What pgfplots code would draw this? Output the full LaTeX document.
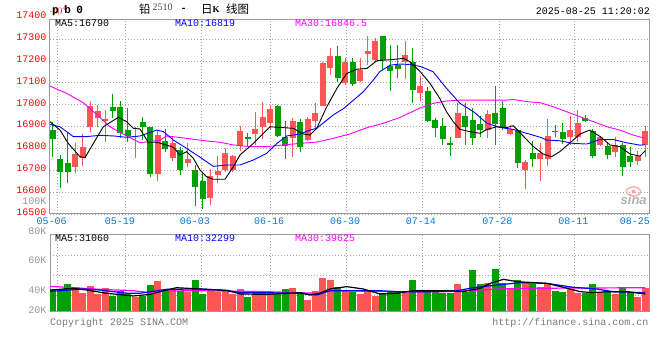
\documentclass[border=0pt]{standalone}
\usepackage{fontspec}
\setmainfont{Liberation Mono}
\newfontfamily\cjk{Noto Sans CJK SC}
\newfontfamily\serif{Liberation Serif}
\newfontfamily\sans{Liberation Sans}
\newfontfamily\widemono[LetterSpace=50]{Liberation Mono}
\usepackage{pgfplots}
\usepackage{pgfplotstable}
\pgfplotsset{compat=1.18}

\definecolor{cred}{RGB}{255,85,85}
\definecolor{cgreen}{RGB}{0,160,0}
\definecolor{cblue}{RGB}{0,0,255}
\definecolor{cmag}{RGB}{255,0,255}
\definecolor{datecol}{RGB}{0,120,220}
\definecolor{bordergray}{RGB}{153,153,153}
\definecolor{gridgray}{RGB}{165,165,165}
\definecolor{labgray}{RGB}{150,150,150}
\definecolor{pricered}{RGB}{255,0,0}

% i open close high low volume(K)
\pgfplotstableread{
i o c h l v
3 16716 16774 16825 16689 44.9
4 16758 16806 16864 16720 38.7
5 16899 16994 17018 16875 46.0
6 16937 16970 16998 16899 37.7
7 16927 16934 16976 16831 43.6
11 16851 16857 16899 16758 34.5
14 16683 16861 16884 16652 51.2
16 16758 16823 16851 16744 41.8
18 16732 16752 16823 16713 40.1
21 16575 16674 16704 16541 41.1
22 16678 16697 16765 16640 40.1
23 16701 16777 16800 16692 41.1
24 16701 16765 16770 16692 37.7
25 16811 16880 16904 16790 42.9
27 16866 16889 16968 16816 40.8
28 16899 16942 17014 16843 40.1
29 16915 16980 16998 16884 39.0
32 16846 16927 16938 16759 43.9
34 16838 16933 16942 16835 31.4
35 16925 16960 17006 16884 40.8
36 16994 17189 17197 16994 54.6
37 17166 17223 17258 17136 52.2
39 17098 17197 17212 17090 41.1
41 17108 17158 17212 17105 37.7
42 17232 17245 17314 17183 41.8
43 17206 17290 17303 17197 35.9
47 17197 17227 17293 17117 39.0
49 17052 17086 17131 17018 40.1
54 16849 16963 17009 16849 48.1
58 16884 16957 16976 16846 49.4
61 16866 16887 16905 16860 42.5
63 16701 16736 16747 16614 49.4
65 16750 16777 16823 16649 44.9
66 16750 16857 16933 16720 49.4
69 16851 16884 16948 16816 42.9
70 16854 16915 16976 16831 38.7
73 16816 16851 16857 16813 40.1
75 16784 16817 16851 16759 37.7
78 16742 16765 16790 16723 34.9
79 16817 16878 16904 16762 43.6
}\redtab

\pgfplotstableread{
i o c h l v
0 16884 16841 16919 16762 41.8
1 16750 16692 16771 16619 42.9
2 16735 16692 16870 16642 48.1
8 16988 16973 17049 16937 35.6
9 16988 16869 17018 16846 40.8
10 16884 16857 16986 16831 37.7
12 16921 16899 16942 16838 35.3
13 16896 16683 16899 16671 47.0
15 16834 16796 16887 16785 42.9
17 16793 16701 16808 16678 40.8
19 16701 16622 16724 16537 52.2
20 16651 16569 16694 16523 37.7
26 16851 16845 16872 16811 34.5
30 16994 16857 16998 16851 37.4
31 16851 16811 16927 16750 42.9
33 16922 16808 16933 16785 39.0
38 17223 17123 17268 17105 44.9
40 17197 17095 17212 17085 40.1
44 17314 17204 17314 17158 39.0
45 17178 17155 17273 17064 41.1
46 17180 17163 17273 17120 40.1
48 17197 17068 17258 17010 52.2
50 17061 16927 17080 16922 41.8
51 16930 16895 16938 16851 40.8
52 16902 16843 16938 16816 39.0
53 16823 16817 16851 16765 39.0
55 16948 16899 17009 16816 40.1
56 16930 16849 16983 16816 62.6
57 16911 16884 16948 16854 48.1
59 16960 16911 17084 16816 63.6
60 16983 16895 17018 16884 49.1
62 16884 16735 16890 16709 52.2
64 16780 16750 16832 16713 48.1
67 16881 16873 16907 16851 40.8
68 16875 16843 16915 16819 39.7
71 16941 16927 16953 16922 39.0
72 16881 16765 16887 16755 48.1
74 16811 16770 16831 16750 40.8
76 16817 16715 16826 16672 43.6
77 16765 16738 16806 16716 39.0
}\greentab

\pgfplotsset{
  panel/.style={
    scale only axis, width=599bp,
    xmin=-0.36, xmax=79.5,
    axis line style={draw=bordergray, line width=1bp},
    xtick={0.61,9.73,19.77,29.07,39.1,49.33,59.5,69.55},
    xticklabels={},
    xmajorgrids, ymajorgrids,
    major grid style={draw=gridgray, line width=0.8bp, dash pattern=on 1bp off 2bp},
    major tick length=0pt, tick style={draw=none},
    tick label style={font=\fontsize{10bp}{12bp}\selectfont},
  },
  candle/.style n args={2}{draw=none, mark=none, error bars/.cd, y dir=plus, y explicit,
    error mark=none, error bar style={draw=#1, line width=#2, solid, line cap=butt}},
}

\begin{document}
\begin{tikzpicture}[font=\fontsize{10bp}{12bp}\selectfont]
\path[use as bounding box] (0bp,0bp) rectangle (660bp,360bp);

% ---------- price panel ----------
\begin{axis}[panel, at={(50bp,146bp)}, anchor=south west, height=195bp,
  ymin=16500, ymax=17392,
  ytick={16500,16600,16700,16800,16900,17000,17100,17200,17300},
  yticklabels={16500,16600,16700,16800,16900,17000,17100,17200,17300},
  yticklabel style={text=pricered, anchor=base east, inner sep=0pt, xshift=-3.5bp, yshift=-1.4bp},
  extra x ticks={-0.13,8.97,18.97,28.85,38.97,49.1,59.3,69.4,77.6},
  extra x tick labels={05-06,05-19,06-03,06-16,06-30,07-14,07-28,08-11,08-25},
  extra x tick style={grid=none, xticklabel style={text=datecol, anchor=base, inner sep=0pt, yshift=-11bp}},
]
% wicks
\addplot[candle={cred}{1bp}]
  table[x=i, y=l, y error plus expr=\thisrow{h}-\thisrow{l}] {\redtab};
\addplot[candle={cgreen}{1bp}]
  table[x=i, y=l, y error plus expr=\thisrow{h}-\thisrow{l}] {\greentab};
% bodies
\addplot[candle={cred}{5.8bp}]
  table[x=i, y=o, y error plus expr=\thisrow{c}-\thisrow{o}] {\redtab};
\addplot[candle={cgreen}{5.8bp}]
  table[x=i, y=c, y error plus expr=\thisrow{o}-\thisrow{c}] {\greentab};
% MA30
\addplot[cmag, line width=0.9bp, mark=none] coordinates {
(-0.36,17085) (1.87,17052) (4.08,17009) (6.3,16942) (7.64,16899) (9.86,16857) (11.64,16826)
(14.31,16838) (15.2,16857) (17.86,16846) (20.5,16834) (22.3,16828) (24.08,16816) (26.3,16808)
(28.5,16808) (30.75,16816) (32.97,16823) (35.2,16829) (37.4,16846) (39.6,16866) (41.9,16895)
(44.1,16915) (46.3,16942) (49.0,16985) (50.7,17006) (52.5,17017) (54.3,17021) (57.9,17021)
(60.5,17021) (61.4,17024) (63.2,17014) (65.0,17009) (66.7,16991) (68.5,16968) (70.3,16945)
(72.1,16922) (73.9,16899) (75.6,16884) (77.4,16861) (79,16846)};
% MA10
\addplot[cblue, line width=0.9bp, mark=none] coordinates {
(-0.36,16910) (0.97,16899) (2.75,16854) (4.5,16854) (6.3,16860) (8.1,16857) (9.86,16851)
(11.64,16857) (13.86,16884) (14.75,16877) (16.1,16838) (17.86,16800) (19.64,16760) (21.4,16718)
(23.2,16724) (24.97,16724) (26.75,16747) (28.5,16777) (29.9,16823) (31.2,16857) (33.0,16866)
(34.3,16884) (35.2,16892) (37.4,16953) (38.8,16983) (40.1,17021) (41.4,17059) (42.75,17113)
(43.6,17151) (45.0,17181) (46.3,17186) (47.6,17184) (49.0,17175) (50.7,17151) (52.5,17075)
(54.3,17006) (56.1,16968) (57.9,16915) (59.6,16896) (61.4,16887) (63.2,16869) (65.0,16851)
(65.9,16838) (67.6,16835) (69.4,16823) (71.2,16820) (73.0,16841) (74.7,16841) (76.5,16826)
(78.3,16815) (79,16817)};
% MA5
\addplot[black, line width=0.9bp, mark=none] coordinates {
(-0.36,16922) (0.97,16884) (2.08,16823) (3.64,16762) (4.31,16758) (5.42,16823) (6.75,16899)
(8.75,16942) (9.86,16922) (10.75,16892) (11.64,16889) (12.75,16828) (13.86,16828) (15.2,16815)
(16.1,16805) (16.97,16770) (17.86,16785) (18.75,16755) (19.64,16701) (20.5,16671) (21.4,16659)
(22.97,16659) (24.08,16716) (24.97,16770) (26.75,16823) (28.97,16899) (30.3,16896) (32.08,16892)
(33.4,16866) (34.3,16861) (35.2,16892) (36.5,16988) (37.9,17075) (39.2,17143) (40.5,17162)
(41.9,17166) (43.2,17201) (45.4,17207) (46.8,17212) (47.6,17197) (49.0,17151) (50.3,17098)
(51.6,17029) (52.5,16968) (53.4,16922) (54.3,16887) (55.6,16877) (56.97,16869) (57.9,16887)
(59.2,16899) (60.5,16895) (61.4,16904) (62.8,16854) (64.1,16808) (65.4,16774) (66.5,16762)
(67.6,16785) (69.0,16826) (70.3,16866) (71.6,16884) (73.0,16854) (74.3,16816) (75.6,16808)
(77.0,16774) (78.3,16765) (79,16790)};
\end{axis}

% ---------- volume panel ----------
\begin{axis}[panel, at={(50bp,49bp)}, anchor=south west, height=77bp,
  ymin=20, ymax=100,
  ytick={35.9,56.7,77.5}, yticklabels={},
]
\addplot[ycomb, draw=cred, line width=6.6bp, mark=none] table[x=i, y=v] {\redtab};
\addplot[ycomb, draw=cgreen, line width=6.6bp, mark=none] table[x=i, y=v] {\greentab};
\addplot[cmag, line width=1.2bp, mark=none] coordinates {
(-0.36,45.6) (1.87,44.6) (6.3,42.5) (10.75,41.1) (13,39) (15.2,40.8) (19.6,41.1) (28.5,40.1)
(33,39) (35.6,38.4) (37,41.1) (45.9,40.1) (52.5,40.1) (57,41.8) (59.2,42.9) (63.6,43.6) (79,44.2)};
\addplot[cblue, line width=1.2bp, mark=none] coordinates {
(-0.36,40.4) (4.1,42.9) (6.3,41.8) (9.9,38.4) (11.6,38.4) (15.2,42.5) (19.6,42.9) (23.2,41.4)
(25,39) (28.5,39) (33,38.4) (35.2,36.6) (37,41.1) (41.4,41.1) (43.6,41.1) (45.9,40.1) (50.3,40.1)
(53.9,41.1) (56.1,44.2) (59.2,47) (62.3,49.4) (65.9,48.7) (69.4,44.6) (72.5,42.9) (74.7,40.1) (79,39)};
\addplot[black, line width=1.2bp, mark=none] coordinates {
(-0.36,41.8) (2.75,43.6) (4.5,41.8) (7.2,38.4) (10.75,35.6) (13,37.3) (15.2,41.8) (16.5,44.2)
(19.6,42.9) (23.2,41.4) (25,37.7) (28.5,37.3) (33,39) (34.3,36.6) (35.6,38.4) (37,42.9) (39.2,45.3)
(41.4,42.9) (43.6,37.7) (45.9,38.4) (48.1,41.1) (52.5,41.1) (54.7,40.1) (57,43.6) (58.3,48.7)
(60.1,52.9) (61.9,50.5) (65.9,48.7) (68.1,44.6) (70.3,40.1) (72.1,39) (73.9,40.1) (76.5,40.1) (79,37.7)};
\end{axis}

% ---------- texts ----------
\node[anchor=base west, inner sep=0pt, font=\widemono\bfseries\fontsize{11bp}{12bp}\selectfont] at (52bp,346.7bp) {pb0};
\node[anchor=west, inner sep=0pt, font=\cjk\fontsize{11.5bp}{12bp}\selectfont] at (139bp,350.5bp) {铅};
\node[anchor=base west, inner sep=0pt, text=black!70, font=\serif\fontsize{10bp}{12bp}\selectfont] at (152.5bp,349bp) {2510};
\node[anchor=base west, inner sep=0pt, font=\fontsize{10bp}{12bp}\selectfont\bfseries] at (180.5bp,348.5bp) {-};
\node[anchor=west, inner sep=0pt, font=\cjk\fontsize{11.5bp}{12bp}\selectfont] at (201bp,350.5bp) {日};
\node[anchor=base west, inner sep=0pt, font=\serif\bfseries\fontsize{9bp}{12bp}\selectfont] at (212.5bp,347.5bp) {K};
\node[anchor=west, inner sep=0pt, font=\cjk\fontsize{11.5bp}{12bp}\selectfont] at (226bp,350.5bp) {线图};
\node[anchor=base east, inner sep=0pt] at (650bp,345bp) {2025-08-25 11:20:02};

\node[anchor=base east, inner sep=0pt, text=pricered] at (46.5bp,341bp) {17400};
\node[anchor=base east, inner sep=0pt, text=labgray] at (46.5bp,155bp) {100K};
\node[anchor=base east, inner sep=0pt, text=labgray] at (46.5bp,125.7bp) {80K};
\node[anchor=base east, inner sep=0pt, text=labgray] at (46.5bp,96bp) {60K};
\node[anchor=base east, inner sep=0pt, text=labgray] at (46.5bp,66.7bp) {40K};
\node[anchor=base east, inner sep=0pt, text=labgray] at (46.5bp,46.7bp) {20K};

\node[anchor=base west, inner sep=0pt, text=black] at (55bp,333.3bp) {MA5:16790};
\node[anchor=base west, inner sep=0pt, text=cblue] at (175bp,333.3bp) {MA10:16819};
\node[anchor=base west, inner sep=0pt, text=cmag] at (295bp,333.3bp) {MA30:16846.5};
\node[anchor=base west, inner sep=0pt, text=black] at (55bp,118.3bp) {MA5:31060};
\node[anchor=base west, inner sep=0pt, text=cblue] at (175bp,118.3bp) {MA10:32299};
\node[anchor=base west, inner sep=0pt, text=cmag] at (295bp,118.3bp) {MA30:39625};

\node[anchor=base west, inner sep=0pt, text=labgray!80!black] at (50bp,34.5bp) {Copyright 2025 SINA.COM};
\node[anchor=base east, inner sep=0pt, text=labgray!80!black] at (648.5bp,34.5bp) {http://finance.sina.com.cn};

% sina watermark
\draw[red!30, line width=1.6bp] (633.5bp,168.5bp) ellipse [x radius=7bp, y radius=4.5bp];
\fill[red!35] (633.5bp,168.5bp) circle [radius=2bp];
\node[anchor=base west, inner sep=0pt, text=black!30, font=\sans\bfseries\itshape\fontsize{13bp}{13bp}\selectfont] at (620.5bp,155bp) {sina};
\end{tikzpicture}
\end{document}
